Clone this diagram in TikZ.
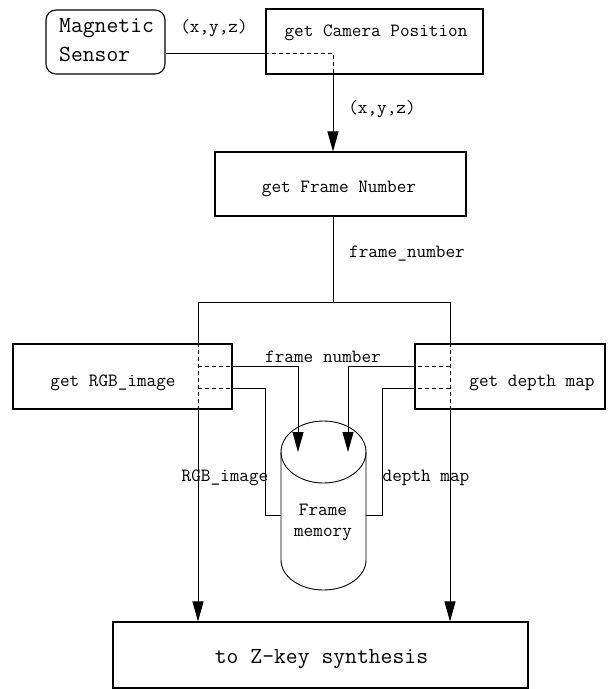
\documentclass[tikz,border=0pt]{standalone}
\usepackage{fontspec}
\usetikzlibrary{arrows.meta}
\tikzset{
  lbl/.style={font=\fontsize{18.7}{22}\selectfont\ttfamily, inner sep=0pt},
  big/.style={font=\fontsize{23}{26}\selectfont\ttfamily, inner sep=0pt},
  box/.style={draw, line width=1.1pt, inner sep=0pt},
  ln/.style={line width=0.9pt},
  dsh/.style={line width=0.9pt, dash pattern=on 4pt off 3pt},
  arr/.style={line width=0.9pt, -{Triangle[length=20pt,width=11pt]}},
}
\begin{document}
\begin{tikzpicture}[x=1pt,y=-1pt]
\useasboundingbox (0,0) rectangle (609,689);
% boxes
\node[box, rounded corners=10pt, minimum width=119pt, minimum height=64pt] (sensor) at (105.5,42) {};
\node[box, minimum width=217pt, minimum height=65pt] (cam) at (374.5,41.5) {};
\node[box, minimum width=251pt, minimum height=64pt] (fn) at (340.5,184) {};
\node[box, minimum width=219pt, minimum height=65pt] (rgb) at (122.5,376.5) {};
\node[box, minimum width=190pt, minimum height=65pt] (depth) at (510,376.5) {};
\node[box, minimum width=415pt, minimum height=66pt] (zkey) at (320.5,655) {};
% box texts
\node[big, anchor=west] (sensortxt1) at (59,28) {Magnetic};
\node[big, anchor=west] (sensortxt2) at (59,54) {Sensor};
\node[lbl] (camtxt) at (376,33) {get Camera Position};
\node[lbl] (fntxt) at (339,189) {get Frame Number};
\node[lbl] (rgbtxt) at (113,383) {get RGB\_image};
\node[lbl] (depthtxt) at (532,383) {get depth map};
\node[big] (zkeytxt) at (321.5,659) {to Z-key synthesis};
% cylinder
\coordinate (cylc) at (323.5,452);
\draw[ln] (cylc) ellipse [x radius=42.5pt, y radius=31pt];
\draw[ln] (281,452) -- (281,560) arc[start angle=180, end angle=360, x radius=42.5pt, y radius=30pt] -- (366,452);
\node[lbl, align=center] (mem) at (323,522) {Frame\\[-1pt]memory};
% connectors: sensor -> camera -> frame number
\coordinate (c1) at (333,53);
\draw[ln] ([yshift=-11pt]sensor.east) -- (cam.west |- c1);
\draw[dsh] (cam.west |- c1) -- (c1) -- (c1 |- cam.south);
\draw[arr] (c1 |- cam.south) -- (c1 |- fn.north);
% frame number distribution
\coordinate (j) at (333,302);
\coordinate (jl) at (198,302);
\coordinate (jr) at (450,302);
\draw[ln] (c1 |- fn.south) -- (j);
\draw[ln] (jl) -- (jr);
\draw[ln] (jl) -- (jl |- rgb.north);
\draw[dsh] (jl |- rgb.north) -- (jl |- rgb.south);
\draw[arr] (jl |- rgb.south) -- (jl |- zkey.north);
\draw[ln] (jr) -- (jr |- depth.north);
\draw[dsh] (jr |- depth.north) -- (jr |- depth.south);
\draw[arr] (jr |- depth.south) -- (jr |- zkey.north);
% left branches
\coordinate (la) at (198,366);
\coordinate (lb) at (198,388);
\coordinate (ta) at (298,366);
\coordinate (tb) at (265,388);
\draw[dsh] (la) -- (rgb.east |- la);
\draw[ln] (rgb.east |- la) -- (ta);
\draw[arr] (ta) -- (ta |- cylc);
\draw[dsh] (lb) -- (rgb.east |- lb);
\draw[ln] (rgb.east |- lb) -- (tb) -- (265,515) -- (281,515);
% right branches
\coordinate (ra) at (450,366);
\coordinate (rb) at (450,388);
\coordinate (ua) at (348,366);
\coordinate (ub) at (382,388);
\draw[dsh] (ra) -- (depth.west |- ra);
\draw[ln] (depth.west |- ra) -- (ua);
\draw[arr] (ua) -- (ua |- cylc);
\draw[dsh] (rb) -- (depth.west |- rb);
\draw[ln] (depth.west |- rb) -- (ub) -- (382,515) -- (366,515);
% labels
\node[lbl] (l1) at (214,28) {(x,y,z)};
\node[lbl] (l2) at (382,109) {(x,y,z)};
\node[lbl] (l3) at (407,254) {frame\_number};
\node[lbl] (l4) at (323,357) {frame number};
\node[lbl] (l5) at (225,478) {RGB\_image};
\node[lbl] (l6) at (426,478) {depth map};
\end{tikzpicture}
\end{document}
